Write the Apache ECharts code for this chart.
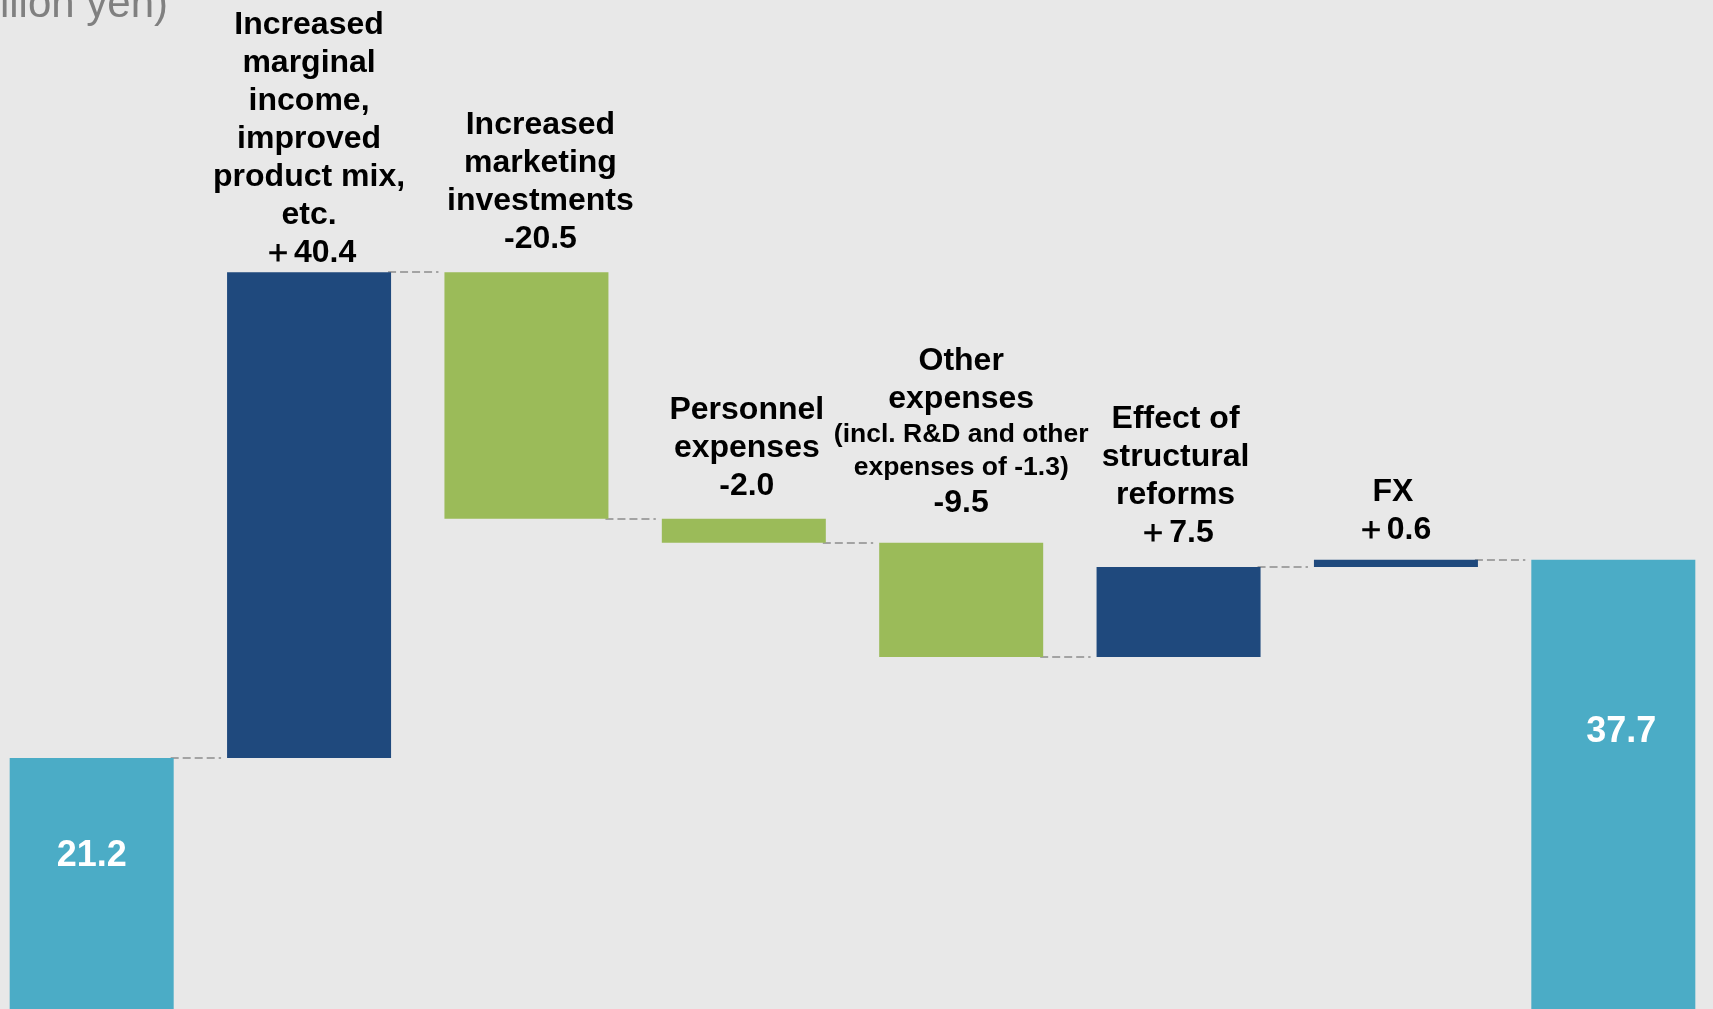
<!DOCTYPE html>
<html>
<head>
<meta charset="utf-8">
<style>
  html, body { margin: 0; padding: 0; background: #e8e8e8; overflow: hidden; width: 1713px; height: 1009px; }
  #chart { position: absolute; left: -17px; top: 0; width: 1739px; height: 1013px; }
</style>
<script src="https://cdn.jsdelivr.net/npm/echarts@6/dist/echarts.min.js"></script>
</head>
<body>
<div id="chart"></div>
<script>
// ---- data ----
const startLabel = 'Previous year';
const startValue = 21.2;
const deltaCategories = [
  'Increased\nmarginal\nincome,\nimproved\nproduct mix,\netc.',
  'Increased\nmarketing\ninvestments',
  'Personnel\nexpenses',
  'Other\nexpenses\n{s|(incl. R&D and other}\n{s|expenses of -1.3)}',
  'Effect of\nstructural\nreforms',
  'FX'
];
const deltaValues = [40.4, -20.5, -2.0, -9.5, 7.5, 0.6];
const endLabel = 'Current year';
const endValue = 37.7;
const unitText = '(billion yen)';

// ---- derived ----
const categories = [startLabel].concat(deltaCategories, [endLabel]);
const BAR_W = 164;
const FONT = "'Liberation Sans', Arial, Helvetica, sans-serif";
const COLORS = { total: '#4BACC6', up: '#1F497D', down: '#9BBB59' };

// label tuning per delta bar (distance above bar, horizontal offset)
const labelDist = [0, 14, 13.5, 20.5, 14.5, 10.5];
const labelOffX = [0, 14, 3, 0, -3, -3];

const baseData = [];
const barData = [];
const levels = [];

baseData.push(0);
barData.push({
  value: startValue,
  itemStyle: { color: COLORS.total },
  label: {
    show: true, position: 'insideTop', distance: 80,
    formatter: startValue.toFixed(1),
    color: '#fff', fontSize: 36, fontWeight: 'bold', fontFamily: FONT
  }
});
let cum = startValue;
levels.push(cum);
deltaValues.forEach((v, i) => {
  const next = cum + v;
  baseData.push(Math.min(cum, next));
  const sign = v >= 0 ? '\uFF0B' : '-';
  barData.push({
    value: Math.abs(v),
    itemStyle: { color: v >= 0 ? COLORS.up : COLORS.down },
    label: {
      show: true, position: 'top',
      distance: labelDist[i],
      offset: [labelOffX[i], 0],
      formatter: deltaCategories[i] + '\n' + sign + Math.abs(v).toFixed(1),
      color: '#000', fontSize: 32, fontWeight: 'bold', fontFamily: FONT,
      lineHeight: 38, align: 'center',
      rich: { s: { fontSize: 26.5, lineHeight: 33, fontWeight: 'bold', fontFamily: FONT, color: '#000' } }
    }
  });
  cum = next;
  levels.push(cum);
});
baseData.push(0);
barData.push({
  value: endValue,
  itemStyle: { color: COLORS.total },
  label: {
    show: true, position: 'insideTop', distance: 154, offset: [8, 0],
    formatter: endValue.toFixed(1),
    color: '#fff', fontSize: 36, fontWeight: 'bold', fontFamily: FONT
  }
});

const connectorData = [];
for (let i = 0; i < categories.length - 1; i++) {
  connectorData.push([i, levels[i]]);
}

const chart = echarts.init(document.getElementById('chart'), null, { renderer: 'canvas' });
chart.setOption({
  backgroundColor: '#e8e8e8',
  animation: false,
  grid: { left: 0, right: 0, top: 3, bottom: 0, containLabel: false },
  xAxis: {
    type: 'category', data: categories, boundaryGap: true,
    axisLine: { show: false }, axisTick: { show: false }, axisLabel: { show: false },
    splitLine: { show: false }
  },
  yAxis: {
    type: 'value', min: 0, max: 84, show: false, splitLine: { show: false }
  },
  graphic: [{
    type: 'text', x: 185, y: 5.5,
    style: {
      text: unitText, fill: '#808080', fontSize: 42, fontFamily: FONT,
      textAlign: 'right', textVerticalAlign: 'middle'
    },
    z: 10
  }],
  series: [
    {
      type: 'bar', stack: 'w', barWidth: BAR_W, data: baseData,
      itemStyle: { color: 'rgba(0,0,0,0)' }, silent: true
    },
    {
      type: 'bar', stack: 'w', barWidth: BAR_W, data: barData
    },
    {
      type: 'custom', data: connectorData, silent: true, z: 1,
      renderItem: function (params, api) {
        const p = api.coord([api.value(0), api.value(1)]);
        const band = api.size([1, 0])[0];
        const half = BAR_W / 2;
        const y = Math.round(p[1]);
        return {
          type: 'line',
          shape: { x1: p[0] + half - 3, y1: y, x2: p[0] + band - half - 6, y2: y },
          style: { stroke: '#a3a3a3', lineWidth: 2, lineDash: [8, 4] }
        };
      }
    }
  ]
});
</script>
</body>
</html>
